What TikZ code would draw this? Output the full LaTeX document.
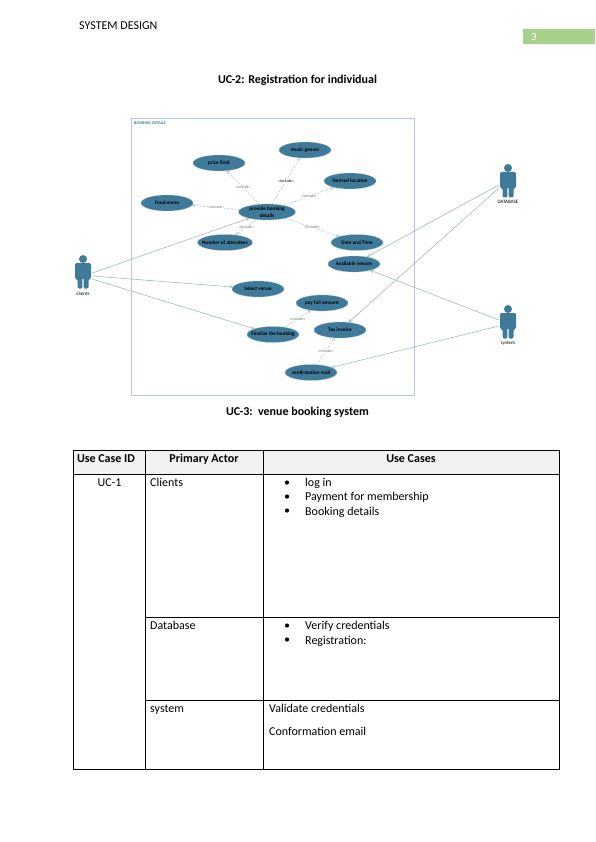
\documentclass[tikz,border=0pt]{standalone}
\usepackage{fontspec}
\setmainfont{Carlito}
\usetikzlibrary{shapes.geometric,arrows.meta,calc}
\definecolor{uc}{HTML}{3F7A9A}
\definecolor{ln}{HTML}{9DB6BF}
\definecolor{bx}{HTML}{B4C9D6}
\definecolor{pg}{HTML}{A8D08D}
\tikzset{
  uccase/.style={ellipse,fill=uc,draw=uc!50!white,line width=.2pt,minimum width=#1,minimum height=16pt,inner sep=0pt,text=black,font=\fontsize{5.2}{5.6}\selectfont\bfseries,align=center},
  uccase/.default=52pt,
  incl/.style={draw=ln,line width=.45pt,dash pattern=on 2pt off 1.5pt,-{Straight Barb[length=2.5pt,width=3pt]}},
  assoc/.style={draw=ln,line width=.55pt,-{Straight Barb[length=2.5pt,width=3pt]}},
  incllab/.style={fill=white,inner sep=.4pt,font=\fontsize{4}{4.5}\selectfont,text=black!55},
  actorbox/.style={minimum width=18pt,minimum height=25pt,inner sep=0pt},
  actorlab/.style={font=\fontsize{5}{6}\selectfont,inner sep=0pt},
  cell/.style={anchor=base west,inner sep=0pt,font=\fontsize{12}{14}\selectfont},
  head/.style={anchor=base,inner sep=0pt,font=\fontsize{12}{14}\selectfont\bfseries},
  tline/.style={draw=black,line width=.8pt},
  bul/.style={circle,fill=black,inner sep=0pt,minimum size=4.2pt},
}
\newcommand{\uctxt}[1]{\makebox[0pt][c]{#1}}
\newcommand{\actorfig}[1]{%
  \fill[uc] ($(#1)+(0,-17)$) circle (4);
  \fill[uc,rounded corners=1.3pt] ($(#1)+(-8,-13)$) -- ($(#1)+(8,-13)$) -- ($(#1)+(8,3)$) -- ($(#1)+(5.5,3)$) -- ($(#1)+(5.5,12.5)$) -- ($(#1)+(.6,12.5)$) -- ($(#1)+(.6,2)$) -- ($(#1)+(-.6,2)$) -- ($(#1)+(-.6,12.5)$) -- ($(#1)+(-5.5,12.5)$) -- ($(#1)+(-5.5,3)$) -- ($(#1)+(-8,3)$) -- cycle;
}
\begin{document}
\begin{tikzpicture}[x=1pt,y=-1pt]
\useasboundingbox (0,0) rectangle (596,842);
\fill[white] (0,0) rectangle (596,842);
% page head
\node[anchor=base west,inner sep=0pt,font=\fontsize{12}{14}\selectfont] (hd) at (79,30) {SYSTEM DESIGN};
\node[fill=pg,minimum width=72pt,minimum height=15pt,inner sep=0pt,anchor=north west] (pn) at (523,29) {};
\node[anchor=base west,inner sep=0pt,text=white,font=\fontsize{11}{13}\selectfont] (pnt) at (531,41) {3};
\node[anchor=base,inner sep=0pt,font=\fontsize{12}{14}\selectfont\bfseries] (t1) at (297.5,83.5) {UC-2: Registration for individual};
\node[anchor=base,inner sep=0pt,font=\fontsize{12}{14}\selectfont\bfseries] (t2) at (297.5,415) {UC-3:\ \ venue booking system};
% system boundary
\draw[bx,line width=.8pt] (131.5,118) rectangle (414.5,395);
\node[anchor=base west,inner sep=0pt,text=uc,font=\fontsize{4.2}{5}\selectfont\bfseries] (bk) at (134,124.5) {BOOKING DETAILS};
% use cases
\node[uccase] (price) at (219,163) {\uctxt{price limit}};
\node[uccase] (music) at (305,150) {\uctxt{music genres}};
\node[uccase] (loc) at (350,181) {\uctxt{Desired location}};
\node[uccase] (food) at (167,203) {\uctxt{Food menu}};
\node[uccase=57pt] (prov) at (267,212) {\uctxt{\shortstack{provide booking\\details}}};
\node[uccase=55pt] (num) at (225,242.5) {\uctxt{Number of attendees}};
\node[uccase] (date) at (357,242.5) {\uctxt{Date and Time}};
\node[uccase] (avail) at (354,264) {\uctxt{Available venues}};
\node[uccase] (sel) at (258,289) {\uctxt{Select venue}};
\node[uccase] (pay) at (322,303) {\uctxt{pay full amount}};
\node[uccase] (fin) at (273,334.5) {\uctxt{Finalize the booking}};
\node[uccase] (tax) at (340,330) {\uctxt{Tax invoice}};
\node[uccase] (conf) at (311,372.5) {\uctxt{confirmation mail}};
% actors
\node[actorbox] (cli) at (83,276) {};
\node[actorbox] (dbs) at (508,185) {};
\node[actorbox] (sys) at (508,326) {};
\actorfig{cli}\actorfig{dbs}\actorfig{sys}
\node[actorlab] (clit) at (83,293.5) {clients};
\node[actorlab] (dbst) at (508,202) {DATABASE};
\node[actorlab] (syst) at (508,343) {system};
% include
\draw[incl] (prov) -- node[incllab]{«include»} (price);
\draw[incl] (prov) -- node[incllab,text=black]{«include»} (music);
\draw[incl] (prov) -- node[incllab]{«include»} (loc);
\draw[incl] (prov) -- node[incllab]{«include»} (food);
\draw[incl] (prov) -- node[incllab]{«include»} (num);
\draw[incl] (prov) -- node[incllab]{«include»} (date);
\draw[incl] (fin) -- node[incllab]{«include»} (pay);
\draw[incl] (conf) -- node[incllab]{«include»} (tax);
% associations
\draw[assoc] (cli.east) ++(0,-3) coordinate (c1) -- (prov);
\draw[assoc] (cli.east) -- (sel);
\draw[assoc] (cli.east) ++(0,3) coordinate (c3) -- (fin);
\draw[assoc] (dbs.west) -- (avail);
\draw[assoc] (dbs.west) ++(0,3) coordinate (d2) -- (tax);
\draw[assoc] (sys.west) ++(0,-6) coordinate (s1) -- (avail);
\draw[assoc] (sys.west) -- (conf);
% table
\fill[black!5] (73,450) rectangle (559,474);
\draw[tline] (73,450) rectangle (559,769);
\draw[tline] (73,474) -- (559,474);
\draw[tline] (145,450) -- (145,769);
\draw[tline] (263,450) -- (263,769);
\draw[tline] (145,617) -- (559,617);
\draw[tline] (145,700) -- (559,700);
\node[head] (h1) at (106,462) {Use Case ID};
\node[head] (h2) at (204,462) {Primary Actor};
\node[head] (h3) at (411,462) {Use Cases};
\node[anchor=base,inner sep=0pt,font=\fontsize{12}{14}\selectfont] (u1) at (109.5,486) {UC-1};
\node[cell] (a1) at (150,486) {Clients};
\node[cell] (a2) at (150,629) {Database};
\node[cell] (a3) at (150,712) {system};
\node[bul] (b1) at (287,482.5) {};
\node[cell] (c1t) at (305,486) {log in};
\node[bul] (b2) at (287,496.5) {};
\node[cell] (c2t) at (305,500) {Payment for membership};
\node[bul] (b3) at (287,510.5) {};
\node[cell] (c3t) at (305,515) {Booking details};
\node[bul] (b4) at (287,625.5) {};
\node[cell] (c4t) at (305,629) {Verify credentials};
\node[bul] (b5) at (287,639.5) {};
\node[cell] (c5t) at (305,644) {Registration:};
\node[cell] (c6t) at (269,712) {Validate credentials};
\node[cell] (c7t) at (269,735) {Conformation email};
\end{tikzpicture}
\end{document}
